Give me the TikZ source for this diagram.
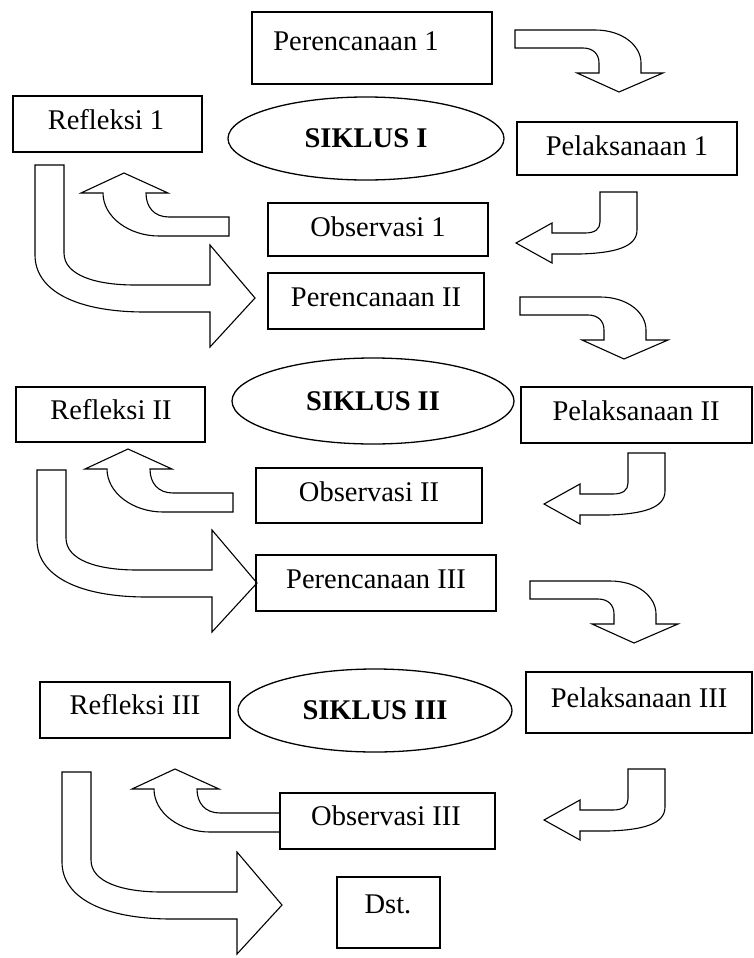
\documentclass[tikz,border=0pt]{standalone}
\usepackage{fontspec}
\setmainfont{Liberation Serif}
\usetikzlibrary{shapes.geometric}
\begin{document}
\begin{tikzpicture}[x=1pt,y=-1pt,
  box/.style={draw, line width=1.3pt, rectangle, inner sep=0pt},
  ell/.style={draw, ellipse, line width=1.3pt, inner sep=0pt},
  txt/.style={anchor=base, inner sep=0pt, font=\fontsize{28.5}{30}\selectfont},
  btxt/.style={txt, font=\fontsize{28.5}{30}\selectfont\bfseries},
  blk/.style={draw, line width=1.1pt, fill=white, line join=miter}]
\useasboundingbox (0,0) rectangle (754,958);

% ---------- block arrows ----------
% right then down
\foreach \ox/\oy in {515/30, 520/297, 530/581}{
  \begin{scope}[shift={(\ox,\oy)}]
    \draw[blk] (0,0) -- (80,0) .. controls (108,0) and (126,16) .. (126,33) -- (126,43)
      -- (148,43) -- (104,62) -- (62,43) -- (84,43) -- (84,33)
      .. controls (84,24) and (78,18) .. (68,18) -- (0,18) -- cycle;
  \end{scope}}
% down then left
\foreach \ox/\oy in {600/192, 628/453, 628/769}{
  \begin{scope}[shift={(\ox,\oy)}]
    \draw[blk] (0,0) -- (37,0) -- (37,38) .. controls (37,55) and (15,61) .. (-20,62)
      -- (-48,62) -- (-48,71) -- (-84,51) -- (-48,31) -- (-48,41) -- (-15,41)
      .. controls (-5,41) and (0,37) .. (0,30) -- cycle;
  \end{scope}}
% left then up
\foreach \ox/\oy in {229/217, 233/493, 280/813}{
  \begin{scope}[shift={(\ox,\oy)}]
    \draw[blk] (0,0) -- (-60,0) .. controls (-75,0) and (-83,-10) .. (-83,-24)
      -- (-61,-24) -- (-105,-44) -- (-148,-24) -- (-126,-24)
      .. controls (-126,0) and (-100,19) .. (-70,19) -- (0,19) -- cycle;
  \end{scope}}
% down then right (big)
\foreach \ox/\oy/\L in {35/165/120, 37/470/100, 62/772/120}{
  \begin{scope}[shift={(\ox,\oy)}]
    \draw[blk] (0,0) -- (29,0) -- (29,\L-32) .. controls (29,\L-10) and (60,\L) .. (100,\L)
      -- (175,\L) -- (175,\L-40) -- (220,\L+13) -- (175,\L+62) -- (175,\L+27) -- (110,\L+27)
      .. controls (40,\L+27) and (0,\L+5) .. (0,\L-30) -- cycle;
  \end{scope}}

% ---------- boxes ----------
\node[box, minimum width=240, minimum height=72] (p1) at (372,48) {};
\node[box, minimum width=189, minimum height=56] (r1) at (107.5,124) {};
\node[box, minimum width=220, minimum height=53] (l1) at (627,148.5) {};
\node[box, minimum width=220, minimum height=53] (o1) at (378,229.5) {};
\node[box, minimum width=216, minimum height=56] (p2) at (376,301) {};
\node[box, minimum width=189, minimum height=55] (r2) at (110.5,414.5) {};
\node[box, minimum width=231, minimum height=56] (l2) at (636.5,415) {};
\node[box, minimum width=226, minimum height=55] (o2) at (369,495.5) {};
\node[box, minimum width=240, minimum height=56] (p3) at (376,583) {};
\node[box, minimum width=190, minimum height=56] (r3) at (135,710) {};
\node[box, minimum width=226, minimum height=61] (l3) at (639,702.5) {};
\node[box, minimum width=215, minimum height=56] (o3) at (387.5,821) {};
\node[box, minimum width=103, minimum height=71] (d) at (388.5,912.5) {};

\node[ell, minimum width=276, minimum height=83] (s1) at (366,138.5) {};
\node[ell, minimum width=282, minimum height=86] (s2) at (373,401) {};
\node[ell, minimum width=274, minimum height=83] (s3) at (375,710.5) {};

% ---------- texts ----------
\node[txt] (p1t) at (356,51) {Perencanaan 1};
\node[txt] (r1t) at (106,129) {Refleksi 1};
\node[btxt] (s1t) at (366,147) {SIKLUS I};
\node[txt] (l1t) at (627,155) {Pelaksanaan 1};
\node[txt] (o1t) at (378,236) {Observasi 1};
\node[txt] (p2t) at (376,306) {Perencanaan II};
\node[txt] (r2t) at (111,419) {Refleksi II};
\node[btxt] (s2t) at (373,410) {SIKLUS II};
\node[txt] (l2t) at (636,420) {Pelaksanaan II};
\node[txt] (o2t) at (369,501) {Observasi II};
\node[txt] (p3t) at (376,588) {Perencanaan III};
\node[txt] (r3t) at (135,714) {Refleksi III};
\node[btxt] (s3t) at (375,719) {SIKLUS III};
\node[txt] (l3t) at (639,707) {Pelaksanaan III};
\node[txt] (o3t) at (386,825) {Observasi III};
\node[txt] (dt) at (388,913) {Dst.};
\end{tikzpicture}
\end{document}
